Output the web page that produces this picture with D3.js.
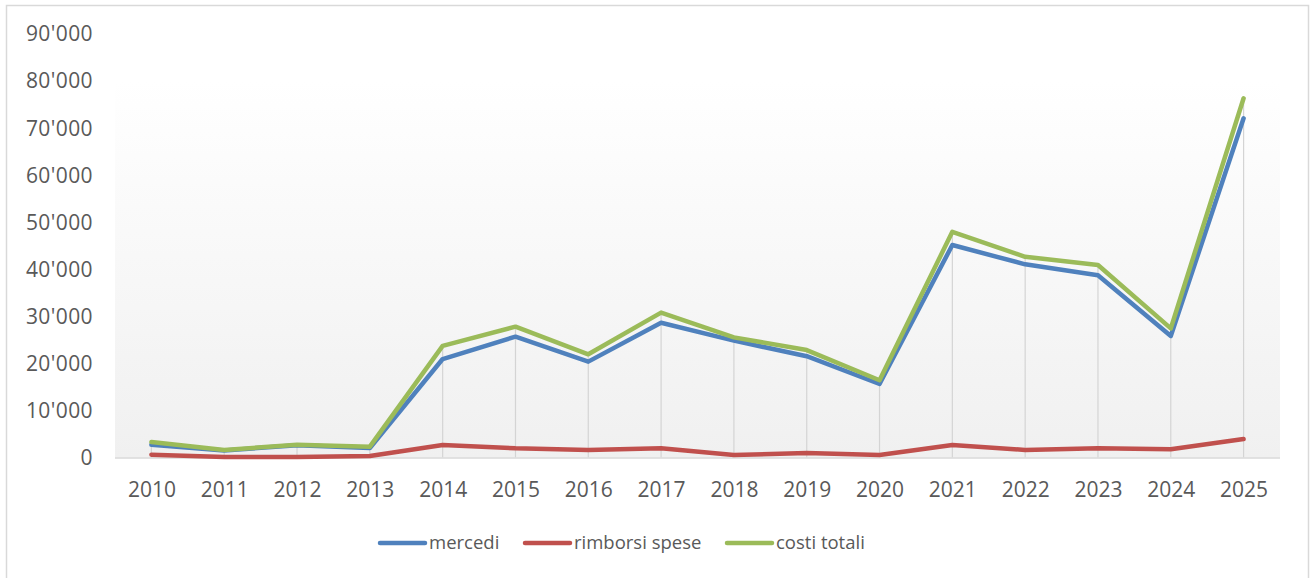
<!DOCTYPE html>
<html><head><meta charset="utf-8">
<script src="https://cdn.jsdelivr.net/npm/d3@7"></script>
<style>
html,body{margin:0;padding:0;background:#fff;}
svg{display:block;font-family:"Open Sans",sans-serif;}
</style></head>
<body><svg id="chart" width="1315" height="578"></svg>
<script>
const years = ["2010","2011","2012","2013","2014","2015","2016","2017","2018","2019","2020","2021","2022","2023","2024","2025"];
const mercedi = [2700,1500,2600,2000,20900,25650,20350,28600,24800,21500,15600,45100,41000,38700,25800,72000];
const rimborsi = [600,100,100,300,2650,1950,1600,1950,530,950,550,2650,1600,1950,1750,3930];
const costi = [3300,1600,2700,2300,23700,27770,21900,30750,25500,22800,16400,47900,42600,40850,27400,76250];
const yTicks = [0,10000,20000,30000,40000,50000,60000,70000,80000,90000];
const seriesNames = ["mercedi","rimborsi spese","costi totali"];
const colors = ["#4F81BD","#C0504D","#9BBB59"];

(function(){
const svg = d3.select("#chart");
const pLeft = 115, pRight = 1280, pTop = 33.5, pBottom = 457.5;

svg.append("rect").attr("x",6.5).attr("y",5.5).attr("width",1302).attr("height",590)
  .attr("fill","#fff").attr("stroke","#d9d9d9").attr("stroke-width",1.5);

const x = d3.scalePoint().domain(years).range([pLeft,pRight]).padding(0.5);
const y = d3.scaleLinear().domain([0,90000]).range([pBottom,pTop]);

const defs = svg.append("defs");
const grad = defs.append("linearGradient").attr("id","pg").attr("x1",0).attr("y1",0).attr("x2",0).attr("y2",1);
grad.append("stop").attr("offset","0%").attr("stop-color","#ffffff");
grad.append("stop").attr("offset","100%").attr("stop-color","#f0f0f0");

svg.append("rect").attr("x",pLeft).attr("y",y(80000)).attr("width",pRight-pLeft).attr("height",pBottom-y(80000))
  .attr("fill","url(#pg)");

const yAxis = d3.axisLeft(y).tickValues(yTicks).tickSize(0).tickPadding(0)
  .tickFormat(d => d3.format(",")(d).replace(/,/g,"'"));
const ya = svg.append("g").attr("transform",`translate(93,0)`).call(yAxis);
ya.select(".domain").remove();
ya.selectAll("text").attr("fill","#595959").style("font-size","21px").style("font-family","Open Sans")
  .attr("dy","0.35em").style("letter-spacing","0.4px");

const all = [mercedi, rimborsi, costi];
svg.append("g").selectAll("line").data(years).join("line")
  .attr("x1",d=>x(d)).attr("x2",d=>x(d))
  .attr("y1",(d,i)=>y(d3.max(all, s=>s[i]))).attr("y2",pBottom)
  .attr("stroke","#d4d4d4").attr("stroke-width",1.2);

svg.append("line").attr("x1",pLeft).attr("x2",pRight).attr("y1",pBottom+0.5).attr("y2",pBottom+0.5)
  .attr("stroke","#d9d9d9").attr("stroke-width",1.5);

const xAxis = d3.axisBottom(x).tickSize(0).tickPadding(0);
const xa = svg.append("g").attr("transform",`translate(0,${pBottom})`).call(xAxis);
xa.select(".domain").remove();
xa.selectAll("text").attr("fill","#595959").style("font-size","21px").style("font-family","Open Sans")
  .attr("y",32).attr("dy","0.35em");

const line = d3.line().x((d,i)=>x(years[i])).y(d=>y(d));
all.forEach((s,k)=>{
  svg.append("path").datum(s).attr("d",line).attr("fill","none")
    .attr("stroke",colors[k]).attr("stroke-width",4.5).attr("stroke-linejoin","round").attr("stroke-linecap","round");
});

const legX = [380,525,727];
const lg = svg.append("g");
seriesNames.forEach((n,k)=>{
  lg.append("line").attr("x1",legX[k]).attr("x2",legX[k]+45).attr("y1",543).attr("y2",543)
    .attr("stroke",colors[k]).attr("stroke-width",4.5).attr("stroke-linecap","round");
  lg.append("text").attr("x",legX[k]+49).attr("y",543).attr("dy","0.35em")
    .attr("fill","#595959").style("font-size","18.5px").style("font-family","Open Sans").text(n);
});
})();
</script></body></html>
